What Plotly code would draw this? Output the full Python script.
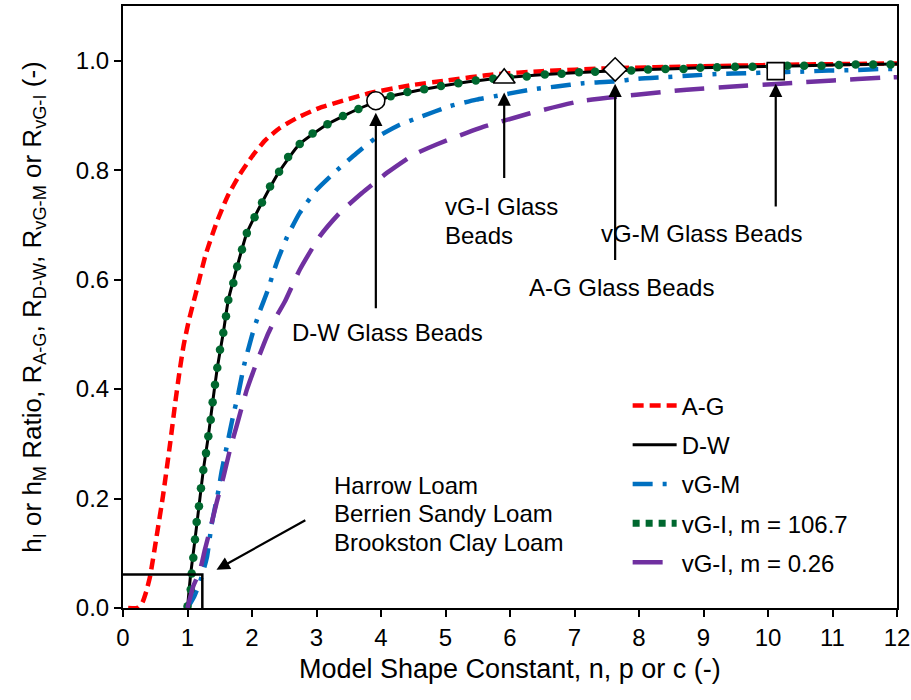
import plotly.graph_objects as go

FONT = "Arial, 'Liberation Sans', sans-serif"

# ---------------- data ----------------
ag_x = [0.08, 0.22, 0.30, 0.36, 0.42, 0.52, 0.62, 0.73, 0.81, 0.88, 0.94, 1.02, 1.14, 1.28, 1.45,
        1.62, 1.81, 2.0, 2.2, 2.43, 2.69, 3.05, 3.47, 3.83, 4.45, 5.02, 5.74, 6.5, 7.5, 9.0, 10.5, 12.0]
ag_y = [0.0, 0.0, 0.01, 0.03, 0.058, 0.13, 0.205, 0.30, 0.375, 0.435, 0.48, 0.525, 0.58, 0.645, 0.704,
        0.752, 0.792, 0.825, 0.854, 0.877, 0.895, 0.914, 0.929, 0.941, 0.955, 0.964, 0.975, 0.981, 0.986,
        0.990, 0.993, 0.995]

dw_x = [1.0, 1.05, 1.116, 1.178, 1.245, 1.323, 1.39, 1.462, 1.555, 1.633, 1.77, 1.92, 2.155, 2.42,
        2.74, 3.17, 3.65, 4.15, 4.67, 5.2, 5.91, 6.54, 7.32, 8.14, 8.95, 9.76, 10.56, 11.36, 12.0]
dw_y = [0.0, 0.063, 0.125, 0.186, 0.252, 0.314, 0.376, 0.439, 0.503, 0.563, 0.624, 0.685, 0.741, 0.797,
        0.848, 0.884, 0.912, 0.935, 0.948, 0.959, 0.969, 0.975, 0.980, 0.984, 0.987, 0.989, 0.991, 0.993, 0.994]

vgm_x = [1.0, 1.1, 1.2, 1.3, 1.375, 1.48, 1.53, 1.61, 1.70, 1.79, 1.876, 1.995, 2.11, 2.23, 2.38, 2.54,
         2.74, 3.0, 3.29, 3.62, 3.92, 4.29, 4.6, 5.07, 5.48, 5.90, 6.31, 6.72, 7.14, 7.6, 7.99, 8.43,
         8.82, 9.26, 9.65, 10.08, 10.5, 10.94, 11.35, 11.79, 12.0]
vgm_y = [0.0, 0.02, 0.05, 0.092, 0.153, 0.215, 0.25, 0.296, 0.347, 0.393, 0.443, 0.496, 0.539, 0.576,
         0.630, 0.677, 0.722, 0.764, 0.797, 0.831, 0.859, 0.883, 0.897, 0.917, 0.929, 0.938, 0.947,
         0.953, 0.959, 0.962, 0.967, 0.970, 0.973, 0.976, 0.977, 0.979, 0.980, 0.982, 0.983, 0.985, 0.985]

vgi1_x = [1.0, 1.05, 1.065, 1.09, 1.116, 1.142, 1.178, 1.209, 1.245, 1.287, 1.323, 1.36, 1.39, 1.426,
          1.462, 1.504, 1.555, 1.597, 1.633, 1.71, 1.77, 1.845, 1.92, 2.04, 2.155, 2.28, 2.42, 2.56,
          2.74, 2.94, 3.17, 3.41, 3.65, 3.90, 4.15, 4.41, 4.67, 4.93, 5.20, 5.47, 5.74, 6.0, 6.26,
          6.54, 6.80, 7.07, 7.32, 7.60, 7.88, 8.14, 8.41, 8.69, 8.95, 9.21, 9.49, 9.76, 10.03, 10.30,
          10.56, 10.83, 11.10, 11.36, 11.63, 11.90]
vgi1_y = [0.003, 0.034, 0.063, 0.092, 0.125, 0.157, 0.186, 0.219, 0.252, 0.283, 0.314, 0.344, 0.376,
          0.408, 0.439, 0.472, 0.503, 0.533, 0.563, 0.594, 0.624, 0.655, 0.685, 0.714, 0.741, 0.770,
          0.797, 0.824, 0.848, 0.867, 0.884, 0.899, 0.912, 0.926, 0.935, 0.943, 0.948, 0.954, 0.959,
          0.964, 0.967, 0.969, 0.971, 0.975, 0.976, 0.979, 0.980, 0.982, 0.982, 0.984, 0.985, 0.985,
          0.987, 0.988, 0.989, 0.989, 0.990, 0.991, 0.991, 0.991, 0.992, 0.993, 0.993, 0.993]

vgi2_x = [1.0, 1.09, 1.19, 1.27, 1.35, 1.45, 1.56, 1.66, 1.76, 1.92, 2.07, 2.23, 2.38, 2.51, 2.74,
          3.05, 3.36, 3.70, 3.93, 4.09, 4.50, 4.86, 5.53, 6.31, 7.09, 7.96, 8.74, 9.46, 10.19, 11.01,
          11.79, 12.0]
vgi2_y = [0.0, 0.04, 0.067, 0.107, 0.143, 0.192, 0.241, 0.29, 0.332, 0.399, 0.448, 0.496, 0.533, 0.56,
          0.618, 0.679, 0.722, 0.758, 0.78, 0.795, 0.828, 0.847, 0.877, 0.904, 0.926, 0.938, 0.947,
          0.953, 0.958, 0.964, 0.969, 0.970]

# glass-bead points (D-W, vG-I, A-G, vG-M)
bead_x = [3.92, 5.91, 7.63, 10.12]
bead_y = [0.927, 0.968, 0.984, 0.981]
bead_symbols = ["circle", "triangle-up", "diamond", "square"]
bead_arrow_tail_y = [0.545, 0.783, 0.633, 0.731]
bead_arrow_tip_y = [0.905, 0.942, 0.958, 0.958]

# text lines: (text, x, y) anchored left / middle
label_lines = ["D-W Glass Beads", "vG-I Glass", "Beads", "A-G Glass Beads", "vG-M Glass Beads",
               "Harrow Loam", "Berrien Sandy Loam", "Brookston Clay Loam"]
label_x = [2.59, 4.96, 4.96, 6.26, 7.38, 3.24, 3.24, 3.24]
label_y = [0.503, 0.733, 0.680, 0.585, 0.685, 0.224, 0.172, 0.120]

# soils box
soil_box_x = [0.0, 1.23, 1.23]
soil_box_y = [0.061, 0.061, 0.0]
soil_arrow_tail = (2.85, 0.162)
soil_arrow_tip = (1.45, 0.070)

x_ticks = list(range(0, 13))
y_ticks = [0.0, 0.2, 0.4, 0.6, 0.8, 1.0]

x_title = "Model Shape Constant, n, p or c (-)"
y_title = ("h<sub>I</sub> or h<sub>M</sub> Ratio, R<sub>A-G</sub>, R<sub>D-W</sub>, "
           "R<sub>vG-M</sub> or R<sub>vG-I</sub> (-)")

# ---------------- figure ----------------
fig = go.Figure()

fig.add_trace(go.Scatter(x=ag_x, y=ag_y, mode="lines", name="A-G", legendgroup="a",
                         line=dict(color="#FF0000", width=4.5, dash="11px,6px", shape="spline", smoothing=0.5)))
fig.add_trace(go.Scatter(x=dw_x, y=dw_y, mode="lines", name="D-W", legendgroup="b",
                         line=dict(color="#000000", width=3, shape="spline", smoothing=0.5)))
fig.add_trace(go.Scatter(x=vgm_x, y=vgm_y, mode="lines", name="vG-M", legendgroup="c",
                         line=dict(color="#0070C0", width=4.5, dash="20px,10px,4px,10px", shape="spline", smoothing=0.5)))
fig.add_trace(go.Scatter(x=vgi1_x, y=vgi1_y, mode="markers", name="vG-I, m = 106.7", legendgroup="d",
                         showlegend=False, marker=dict(color="#00682F", size=8.5)))
fig.add_trace(go.Scatter(x=[None], y=[None], mode="lines", name="vG-I, m = 106.7", legendgroup="d",
                         line=dict(color="#00682F", width=7, dash="7px,6px")))
fig.add_trace(go.Scatter(x=vgi2_x, y=vgi2_y, mode="lines", name="vG-I, m = 0.26", legendgroup="e",
                         line=dict(color="#7030A0", width=4.5, dash="30px,14px", shape="spline", smoothing=0.5)))

# soils box
fig.add_trace(go.Scatter(x=soil_box_x, y=soil_box_y, mode="lines", showlegend=False,
                         line=dict(color="black", width=2.5), hoverinfo="skip"))

# bead markers
fig.add_trace(go.Scatter(x=bead_x, y=bead_y, mode="markers", showlegend=False,
                         marker=dict(symbol=bead_symbols, size=[18, 19, 18, 17], color="white",
                                     opacity=1, line=dict(color="black", width=1.6))))

annotations = []
for bx, ty, hy in zip(bead_x, bead_arrow_tail_y, bead_arrow_tip_y):
    annotations.append(dict(x=bx, y=hy, ax=bx, ay=ty, xref="x", yref="y", axref="x", ayref="y",
                            text="", showarrow=True, arrowhead=2, arrowsize=1.2, arrowwidth=2.2,
                            arrowcolor="black"))
for t, lx, ly in zip(label_lines, label_x, label_y):
    annotations.append(dict(x=lx, y=ly, xref="x", yref="y", text=t, showarrow=False,
                            xanchor="left", yanchor="middle", align="left",
                            font=dict(family=FONT, size=24, color="black")))

annotations.append(dict(x=soil_arrow_tip[0], y=soil_arrow_tip[1], ax=soil_arrow_tail[0],
                        ay=soil_arrow_tail[1], xref="x", yref="y", axref="x", ayref="y", text="",
                        showarrow=True, arrowhead=2, arrowsize=1.2, arrowwidth=2.2, arrowcolor="black"))

# x-axis title
annotations.append(dict(x=0.5, y=-0.101, xref="paper", yref="paper", text=x_title, showarrow=False,
                        xanchor="center", yanchor="middle", font=dict(family=FONT, size=27, color="black")))

fig.update_layout(
    width=911, height=700,
    margin=dict(l=123, r=14, t=6, b=92),
    paper_bgcolor="white", plot_bgcolor="white",
    font=dict(family=FONT, size=24, color="black"),
    showlegend=True,
    legend=dict(x=0.652, y=0.373, xanchor="left", yanchor="top", bgcolor="rgba(0,0,0,0)",
                font=dict(family=FONT, size=24, color="black"), tracegroupgap=5,
                itemwidth=44),
    annotations=annotations,
)
fig.update_xaxes(range=[0, 12], tickvals=x_ticks, ticktext=[str(v) for v in x_ticks],
                 automargin=False,
                 showgrid=False, zeroline=False, showline=True, linecolor="black", linewidth=2,
                 mirror=True, ticks="outside", ticklen=7, tickwidth=2, tickcolor="black",
                 tickfont=dict(family=FONT, size=24))
fig.update_yaxes(range=[0, 1.1], tickvals=y_ticks, ticktext=[f"{v:.1f}" for v in y_ticks],
                 automargin=False,
                 showgrid=False, zeroline=False, showline=True, linecolor="black", linewidth=2,
                 mirror=True, ticks="outside", ticklen=7, tickwidth=2, tickcolor="black",
                 tickfont=dict(family=FONT, size=24),
                 title=dict(text=y_title, font=dict(family=FONT, size=26), standoff=27))

fig.write_html("out.html")
